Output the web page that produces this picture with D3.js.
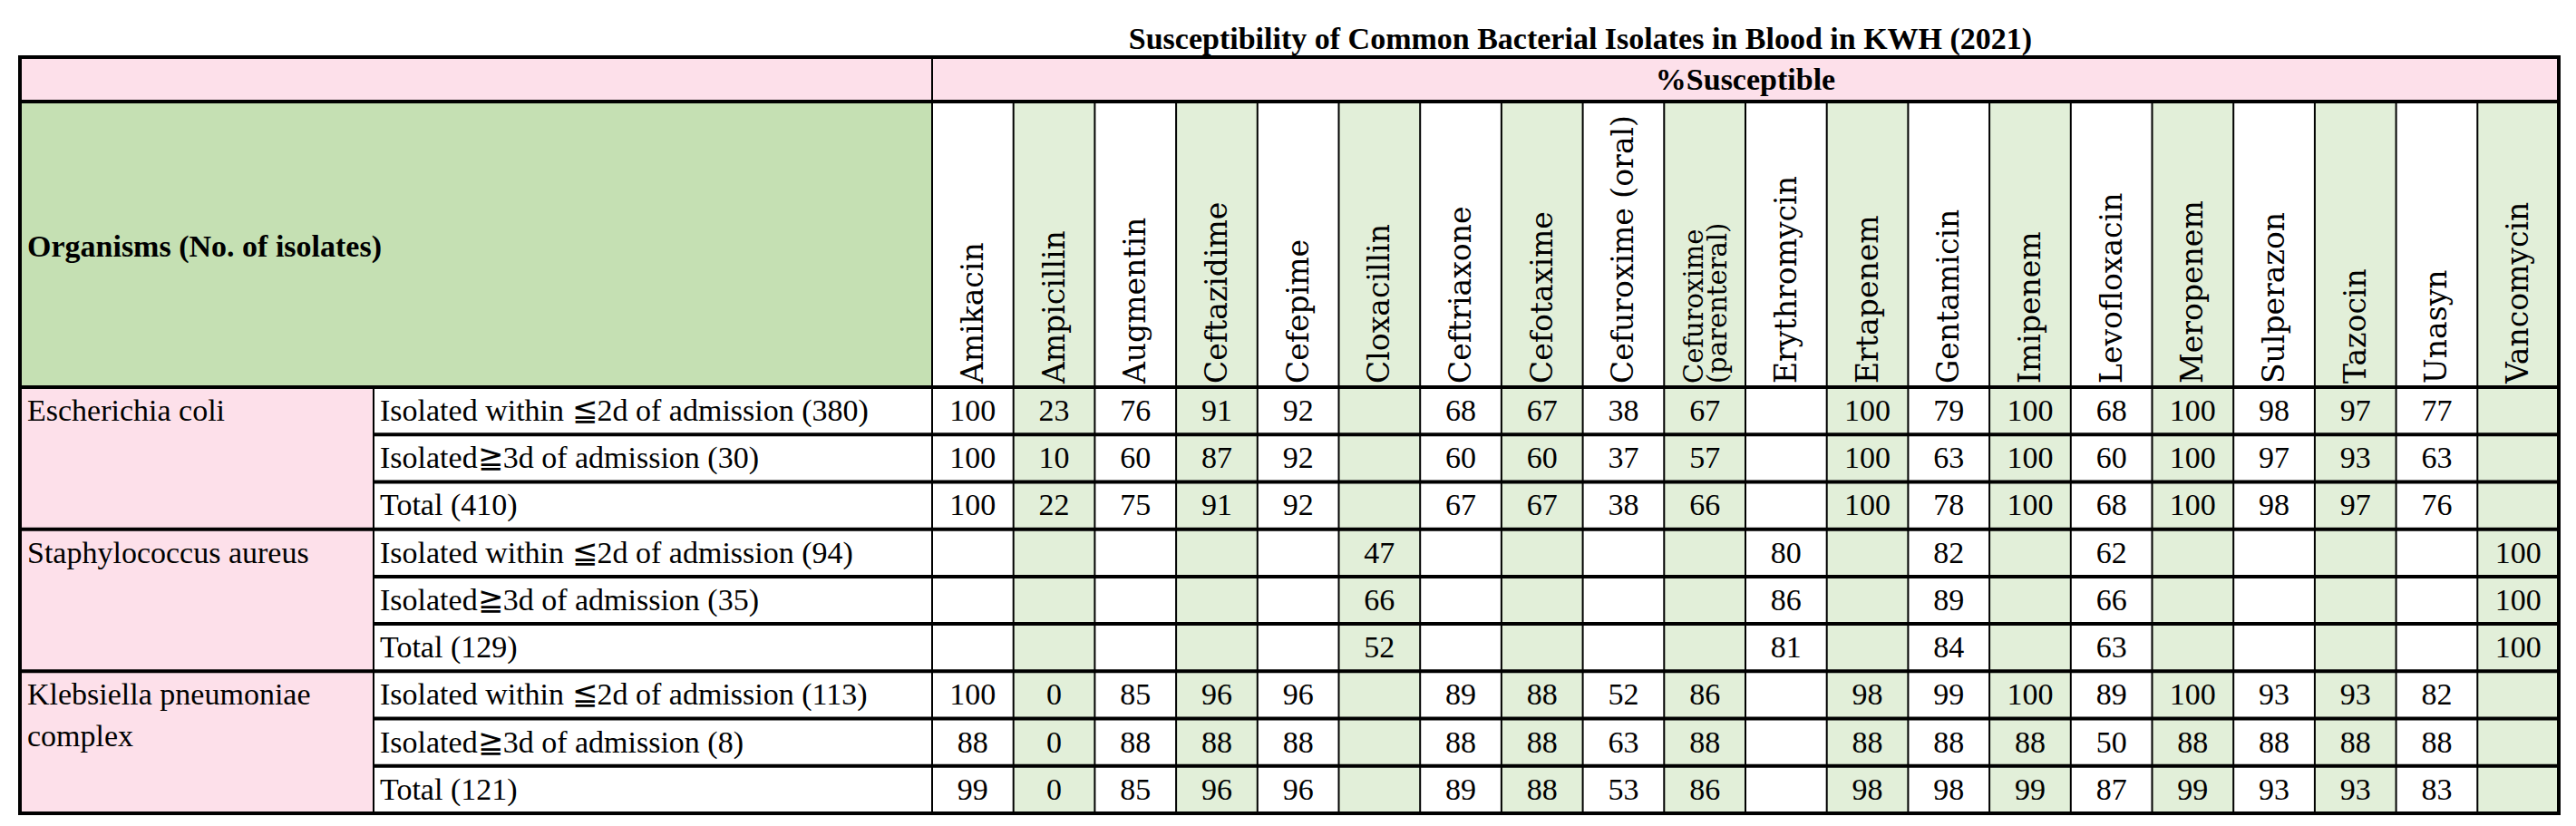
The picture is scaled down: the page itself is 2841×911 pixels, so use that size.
<!DOCTYPE html>
<html><head><meta charset="utf-8">
<script src="https://cdn.jsdelivr.net/npm/d3@7"></script>
<style>body{margin:0;background:#fff}</style></head>
<body><svg id="c" width="2841" height="911"></svg>
<script>
const title = "Susceptibility of Common Bacterial Isolates in Blood in KWH (2021)";
const drugs = ["Amikacin","Ampicillin","Augmentin","Ceftazidime","Cefepime","Cloxacillin","Ceftriaxone","Cefotaxime","Cefuroxime (oral)","Cefuroxime|(parenteral)","Erythromycin","Ertapenem","Gentamicin","Imipenem","Levofloxacin","Meropenem","Sulperazon","Tazocin","Unasyn","Vancomycin"];
const organisms = ["Escherichia coli","Staphylococcus aureus","Klebsiella pneumoniae|complex"];
const subRows = [
 "Isolated within ≦2d of admission (380)","Isolated≧3d of admission (30)","Total (410)",
 "Isolated within ≦2d of admission (94)","Isolated≧3d of admission (35)","Total (129)",
 "Isolated within ≦2d of admission (113)","Isolated≧3d of admission (8)","Total (121)"];
const _ = null;
const values = [
 [100,23,76,91,92,_,68,67,38,67,_,100,79,100,68,100,98,97,77,_],
 [100,10,60,87,92,_,60,60,37,57,_,100,63,100,60,100,97,93,63,_],
 [100,22,75,91,92,_,67,67,38,66,_,100,78,100,68,100,98,97,76,_],
 [_,_,_,_,_,47,_,_,_,_,80,_,82,_,62,_,_,_,_,100],
 [_,_,_,_,_,66,_,_,_,_,86,_,89,_,66,_,_,_,_,100],
 [_,_,_,_,_,52,_,_,_,_,81,_,84,_,63,_,_,_,_,100],
 [100,0,85,96,96,_,89,88,52,86,_,98,99,100,89,100,93,93,82,_],
 [88,0,88,88,88,_,88,88,63,88,_,88,88,88,50,88,88,88,88,_],
 [99,0,85,96,96,_,89,88,53,86,_,98,98,99,87,99,93,93,83,_]];

const svg = d3.select("#c");
const L=22, S=412, D=1028, R=2822, T=63, H1=112, H2=427, B=897;
const PINK="#fde0ea", GH="#c5e0b3", LG="#e2efd9";
const x = d3.scaleBand().domain(d3.range(drugs.length)).range([D,R]);
const y = d3.scaleBand().domain(d3.range(subRows.length)).range([H2,B]);
const serif = "Liberation Serif, Times New Roman, DejaVu Serif, serif";

svg.append("rect").attr("x",L).attr("y",T).attr("width",R-L).attr("height",H1-T).attr("fill",PINK);
svg.append("rect").attr("x",L).attr("y",H1).attr("width",D-L).attr("height",H2-H1).attr("fill",GH);
svg.append("rect").attr("x",L).attr("y",H2).attr("width",S-L).attr("height",B-H2).attr("fill",PINK);
svg.selectAll(".col").data(drugs.map((d,i)=>i).filter(i=>i%2==1)).join("rect")
 .attr("x",i=>x(i)).attr("y",H1).attr("width",x.bandwidth()).attr("height",B-H1).attr("fill",LG);

svg.append("text").attr("x",1743).attr("y",54).attr("text-anchor","middle")
 .style("font-family",serif).attr("font-weight","bold").attr("font-size",34).text(title);
svg.append("text").attr("x",(D+R)/2).attr("y",99).attr("text-anchor","middle")
 .style("font-family",serif).attr("font-weight","bold").attr("font-size",34).text("%Susceptible");
svg.append("text").attr("x",30).attr("y",283).style("font-family",serif).attr("font-weight","bold")
 .attr("font-size",34).text("Organisms (No. of isolates)");

drugs.forEach((d,i)=>{
  const lines=d.split("|");
  const cx=x(i)+x.bandwidth()/2;
  lines.forEach((ln,k)=>{
    const off=(k-(lines.length-1)/2)*26;
    svg.append("text").attr("transform",`translate(${cx+11+off},${H2-4}) rotate(-90)`)
     .style("font-family","DejaVu Serif, serif").attr("font-size",lines.length>1?29:33).text(ln);
  });
});

organisms.forEach((o,g)=>{
  o.split("|").forEach((ln,k)=>{
    svg.append("text").attr("x",30).attr("y",y(g*3)+37+k*46).style("font-family",serif)
     .attr("font-size",34).text(ln);
  });
});
subRows.forEach((s,r)=>{
  svg.append("text").attr("x",419).attr("y",y(r)+37).style("font-family",serif).attr("font-size",34).text(s);
  values[r].forEach((v,i)=>{
    if(v===null) return;
    svg.append("text").attr("x",x(i)+x.bandwidth()/2).attr("y",y(r)+37).attr("text-anchor","middle")
     .style("font-family",serif).attr("font-size",34).text(v);
  });
});

const line=(x1,y1,x2,y2,w)=>svg.append("line").attr("x1",x1).attr("y1",y1).attr("x2",x2).attr("y2",y2)
 .attr("stroke","#000").attr("stroke-width",w);
drugs.forEach((d,i)=>{ if(i>0) line(x(i),H1,x(i),B,2); });
line(D,T,D,B,2); line(S,H2,S,B,2);
subRows.forEach((s,r)=>{ if(r>0){ if(r%3==0) line(L,y(r),R,y(r),4); else line(S,y(r),R,y(r),4);} });
line(L,H1,R,H1,4); line(L,H2,R,H2,4);
svg.append("rect").attr("x",L).attr("y",T).attr("width",R-L).attr("height",B-T)
 .attr("fill","none").attr("stroke","#000").attr("stroke-width",4);
</script></body></html>
